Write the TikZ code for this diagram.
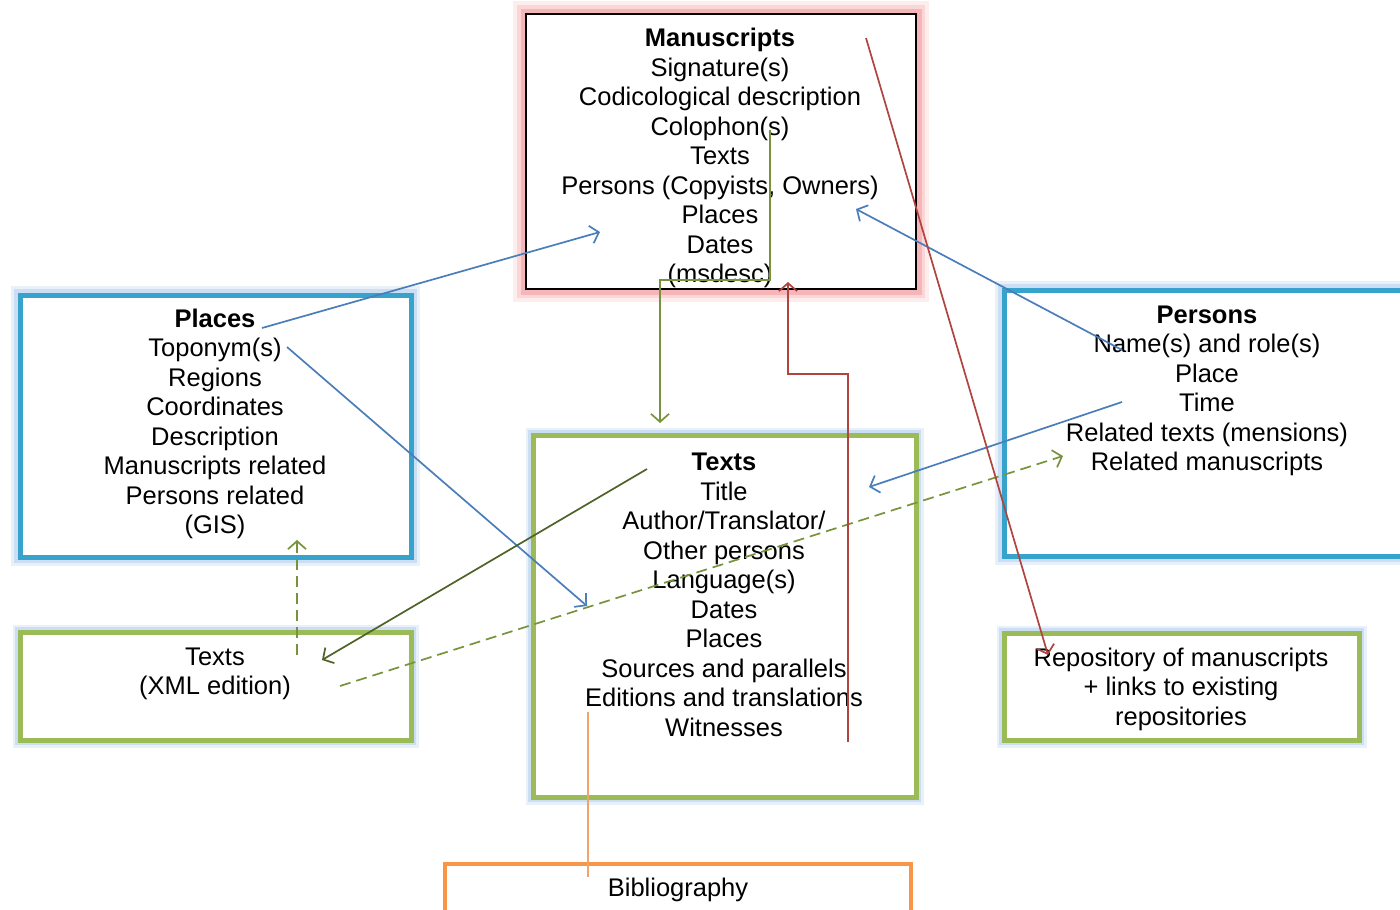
\documentclass[tikz,border=0pt]{standalone}
\usepackage{fontspec}
\setmainfont{Liberation Sans}
\usetikzlibrary{arrows.meta}

\begin{document}
\begin{tikzpicture}[x=1pt, y=-1pt, >={Straight Barb[length=8pt,width=18pt]}]
  \definecolor{pinkglow}{HTML}{F4A3A6}
  \definecolor{blueglow}{HTML}{B4D0F0}
  \definecolor{boxblue}{HTML}{36A3CC}
  \definecolor{boxgreen}{HTML}{9BBB59}
  \definecolor{boxorange}{HTML}{F79646}
  \definecolor{linkblue}{HTML}{4A7EBB}
  \definecolor{linkgreen}{HTML}{77933C}
  \definecolor{linkdarkgreen}{HTML}{4F6228}
  \definecolor{linkred}{HTML}{B0443F}
  \definecolor{linkorange}{HTML}{F2A36A}
  \newcommand{\boxfont}[0]{\fontsize{25.5}{29.5}\selectfont}
  \newcommand{\boxhead}[1]{\textbf{#1}}
  \tikzstyle{box}       = [rectangle, inner sep=0pt, fill=white]
  \tikzstyle{redbox}    = [box, draw=black, line width=1.3pt, preaction={draw=pinkglow!20, line width=26pt}, preaction={draw=pinkglow!45, line width=18pt}, preaction={draw=pinkglow!80, line width=11pt}]
  \tikzstyle{bluebox}   = [box, draw=boxblue, line width=5pt, preaction={draw=blueglow!30, line width=18pt}, preaction={draw=blueglow!70, line width=12pt}]
  \tikzstyle{greenbox}  = [box, draw=boxgreen, line width=5pt, preaction={draw=blueglow!30, line width=15pt}, preaction={draw=blueglow!70, line width=10pt}]
  \tikzstyle{orangebox} = [box, draw=boxorange, line width=4pt]
  \tikzstyle{boxtext}   = [align=center, inner sep=0pt, font=\boxfont]
  \tikzstyle{connector} = [line width=1.7pt, ->]
  \tikzstyle{dashlink}  = [connector, dash pattern=on 11pt off 6pt]
  \useasboundingbox (0,0) rectangle (1400,910);
  \clip (0,0) rectangle (1400,910);
  \fill [white] (0,0) rectangle (1400,910);
  % boxes
  \node [redbox,    minimum width=390pt, minimum height=275pt] (manuscripts)  at (721,151.5)  {};
  \node [bluebox,   minimum width=391pt, minimum height=262pt] (places)       at (215.5,426)  {};
  \node [bluebox,   minimum width=456pt, minimum height=266pt] (persons)      at (1232,423)   {};
  \node [greenbox,  minimum width=391pt, minimum height=108pt] (xmledition)   at (215.5,686)  {};
  \node [greenbox,  minimum width=383pt, minimum height=362pt] (texts)        at (724.5,616)  {};
  \node [greenbox,  minimum width=355pt, minimum height=107pt] (repository)   at (1181.5,686.5) {};
  \node [orangebox, minimum width=466pt, minimum height=96pt]  (bibliography) at (678,912)    {};
  % texts
  \node [boxtext] (manuscriptstext)  at (720,158)    {\boxhead{Manuscripts}\\Signature(s)\\Codicological description\\Colophon(s)\\Texts\\Persons (Copyists, Owners)\\Places\\Dates\\(msdesc)};
  \node [boxtext] (placestext)       at (215,424)    {\boxhead{Places}\\Toponym(s)\\Regions\\Coordinates\\Description\\Manuscripts related\\Persons related\\(GIS)};
  \node [boxtext] (personstext)      at (1207,391)   {\boxhead{Persons}\\Name(s) and role(s)\\Place\\Time\\Related texts (mensions)\\Related manuscripts};
  \node [boxtext] (textstext)        at (724,595)    {\boxhead{Texts}\\Title\\Author/Translator/\\Other persons\\Language(s)\\Dates\\Places\\Sources and parallels\\Editions and translations\\Witnesses};
  \node [boxtext] (xmleditiontext)   at (215,674)    {Texts\\(XML edition)};
  \node [boxtext] (repositorytext)   at (1181,689)   {Repository of manuscripts\\+ links to existing\\repositories};
  \node [boxtext] (bibliographytext) at (678,890)    {Bibliography};
  % link ends
  \coordinate (placesout)     at (262,328);
  \coordinate (toponymout)    at (287,347);
  \coordinate (msplacesin)    at (600,232);
  \coordinate (textslangin)   at (587,606);
  \coordinate (personsnameout) at (1122,350);
  \coordinate (msownersin)    at (856,209);
  \coordinate (personstimeout) at (1122,402);
  \coordinate (textstitlein)  at (869,487);
  \coordinate (mstextsout)    at (770,130);
  \coordinate (textsin)       at (660,423);
  \coordinate (textsheadout)  at (647,469);
  \coordinate (xmlin)         at (322,660);
  \coordinate (xmlup)         at (297,655);
  \coordinate (placesin)      at (297,540);
  \coordinate (xmlout)        at (340,686);
  \coordinate (personsmsin)   at (1063,456);
  \coordinate (mstopout)      at (866,38);
  \coordinate (repositoryin)  at (1048,655);
  \coordinate (textswitout)   at (848,742);
  \coordinate (msbottomin)    at (788,282);
  \coordinate (textsbibout)   at (588,712);
  \coordinate (bibin)         at (588,877);
  % links
  \draw [connector, linkblue]      (placesout)      -- (msplacesin);
  \draw [connector, linkblue]      (toponymout)     -- (textslangin);
  \draw [connector, linkblue]      (personsnameout) -- (msownersin);
  \draw [connector, linkblue]      (personstimeout) -- (textstitlein);
  \draw [connector, linkgreen]     (mstextsout) -- (770,280) -| (textsin);
  \draw [connector, linkdarkgreen] (textsheadout)   -- (xmlin);
  \draw [dashlink, linkgreen]      (xmlup)          -- (placesin);
  \draw [dashlink, linkgreen]      (xmlout)         -- (personsmsin);
  \draw [connector, linkred]       (mstopout)       -- (repositoryin);
  \draw [connector, linkred]       (textswitout) -- (848,374) -| (msbottomin);
  \draw [line width=1.7pt, linkorange] (textsbibout) -- (bibin);
\end{tikzpicture}
\end{document}
